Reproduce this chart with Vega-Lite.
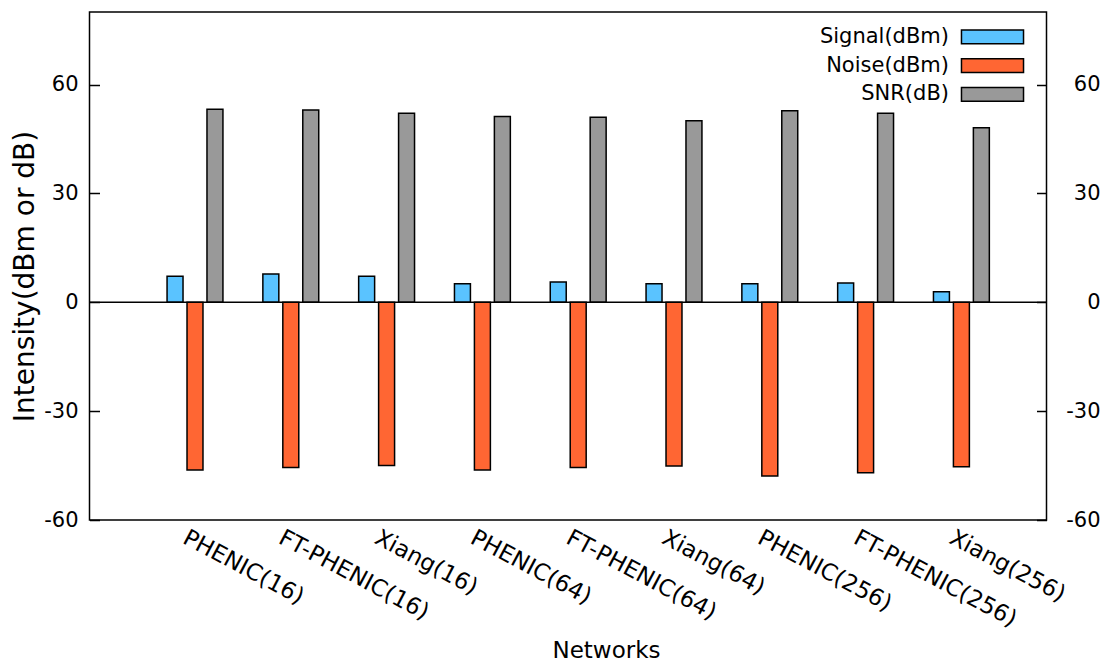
{
  "$schema": "https://vega.github.io/schema/vega-lite/v6.json",
  "width": 957,
  "height": 508,
  "autosize": {"type": "none"},
  "padding": {"left": 89.5, "top": 12, "right": 62.5, "bottom": 146},
  "background": "white",
  "data": {"values": [
    {"network": "PHENIC(16)", "series": "Signal(dBm)", "value": 7.2},
    {"network": "PHENIC(16)", "series": "Noise(dBm)", "value": -46.2},
    {"network": "PHENIC(16)", "series": "SNR(dB)", "value": 53.2},
    {"network": "FT-PHENIC(16)", "series": "Signal(dBm)", "value": 7.8},
    {"network": "FT-PHENIC(16)", "series": "Noise(dBm)", "value": -45.5},
    {"network": "FT-PHENIC(16)", "series": "SNR(dB)", "value": 53.0},
    {"network": "Xiang(16)", "series": "Signal(dBm)", "value": 7.2},
    {"network": "Xiang(16)", "series": "Noise(dBm)", "value": -45.0},
    {"network": "Xiang(16)", "series": "SNR(dB)", "value": 52.1},
    {"network": "PHENIC(64)", "series": "Signal(dBm)", "value": 5.1},
    {"network": "PHENIC(64)", "series": "Noise(dBm)", "value": -46.2},
    {"network": "PHENIC(64)", "series": "SNR(dB)", "value": 51.2},
    {"network": "FT-PHENIC(64)", "series": "Signal(dBm)", "value": 5.6},
    {"network": "FT-PHENIC(64)", "series": "Noise(dBm)", "value": -45.5},
    {"network": "FT-PHENIC(64)", "series": "SNR(dB)", "value": 51.0},
    {"network": "Xiang(64)", "series": "Signal(dBm)", "value": 5.1},
    {"network": "Xiang(64)", "series": "Noise(dBm)", "value": -45.1},
    {"network": "Xiang(64)", "series": "SNR(dB)", "value": 50.0},
    {"network": "PHENIC(256)", "series": "Signal(dBm)", "value": 5.1},
    {"network": "PHENIC(256)", "series": "Noise(dBm)", "value": -47.9},
    {"network": "PHENIC(256)", "series": "SNR(dB)", "value": 52.8},
    {"network": "FT-PHENIC(256)", "series": "Signal(dBm)", "value": 5.3},
    {"network": "FT-PHENIC(256)", "series": "Noise(dBm)", "value": -47.0},
    {"network": "FT-PHENIC(256)", "series": "SNR(dB)", "value": 52.1},
    {"network": "Xiang(256)", "series": "Signal(dBm)", "value": 2.9},
    {"network": "Xiang(256)", "series": "Noise(dBm)", "value": -45.3},
    {"network": "Xiang(256)", "series": "SNR(dB)", "value": 48.1}
  ]},
  "layer": [
    {
      "mark": {"type": "bar", "stroke": "black", "strokeWidth": 1.5, "opacity": 1},
      "encoding": {
        "x": {
          "field": "network", "type": "nominal",
          "sort": ["PHENIC(16)", "FT-PHENIC(16)", "Xiang(16)", "PHENIC(64)", "FT-PHENIC(64)", "Xiang(64)", "PHENIC(256)", "FT-PHENIC(256)", "Xiang(256)"],
          "scale": {"range": [57.6, 919.8], "paddingInner": 0, "paddingOuter": 0},
          "axis": {
            "title": "Networks", "titleX": 516.5, "titleY": 137, "titleBaseline": "alphabetic", "titleAlign": "center",
            "titleFontSize": 23, "titleFontWeight": "normal", "titleFont": "DejaVu Sans", "titleColor": "black",
            "labelAngle": 28, "labelAlign": "left", "labelBaseline": "top", "labelPadding": 6, "labelOffset": -5,
            "labelFontSize": 23, "labelFont": "DejaVu Sans", "labelColor": "black", "labelOverlap": false, "labelLimit": 400,
            "ticks": false, "domain": false, "grid": false
          }
        },
        "xOffset": {
          "field": "series", "type": "nominal",
          "sort": ["Signal(dBm)", "Noise(dBm)", "SNR(dB)"],
          "scale": {"paddingInner": 0.2, "paddingOuter": 1.08}
        },
        "y": {
          "field": "value", "type": "quantitative",
          "scale": {"domain": [-60, 80], "nice": false, "zero": false},
          "axis": {
            "orient": "left", "values": [-60, -30, 0, 30, 60], "labelExpr": "'' + datum.value",
            "title": "Intensity(dBm or dB)", "titleAngle": -90, "titleX": -56, "titleY": 264,
            "titleBaseline": "alphabetic", "titleAlign": "center",
            "titleFontSize": 28, "titleFontWeight": "normal", "titleFont": "DejaVu Sans", "titleColor": "black",
            "tickSize": -10, "tickColor": "black", "tickWidth": 1.5, "labelPadding": 21.5,
            "labelFontSize": 21, "labelFont": "DejaVu Sans", "labelColor": "black",
            "domain": false, "grid": false
          }
        },
        "fill": {
          "field": "series", "type": "nominal",
          "scale": {"domain": ["Signal(dBm)", "Noise(dBm)", "SNR(dB)"], "range": ["#5ac3ff", "#ff6633", "#999999"]},
          "legend": {
            "title": null, "orient": "none", "legendX": 892.5, "legendY": 14.3, "padding": 0,
            "symbolType": "M-5,-1.1H5V1.1H-5Z", "symbolSize": 154,
            "symbolStrokeColor": "black", "symbolStrokeWidth": 1.5, "symbolOpacity": 1,
            "rowPadding": 6.8,
            "labelOffset": -54, "labelAlign": "right", "labelBaseline": "middle",
            "labelFontSize": 21, "labelFont": "DejaVu Sans", "labelColor": "black", "labelLimit": 300
          }
        }
      }
    },
    {
      "data": {"values": [{"zero": 0}]},
      "mark": {"type": "rule", "color": "black", "strokeWidth": 1.5},
      "encoding": {
        "y": {
          "field": "zero", "type": "quantitative",
          "scale": {"domain": [-60, 80], "nice": false, "zero": false},
          "axis": {
            "orient": "right", "values": [-60, -30, 0, 30, 60], "labelExpr": "'' + datum.value", "title": null,
            "tickSize": -10, "tickColor": "black", "tickWidth": 1.5, "labelPadding": 63.5, "labelAlign": "right",
            "labelFontSize": 21, "labelFont": "DejaVu Sans", "labelColor": "black",
            "domain": false, "grid": false
          }
        }
      }
    }
  ],
  "resolve": {"scale": {"y": "independent"}, "axis": {"y": "independent"}},
  "config": {
    "view": {"stroke": "black", "strokeWidth": 1.5},
    "font": "DejaVu Sans"
  }
}
